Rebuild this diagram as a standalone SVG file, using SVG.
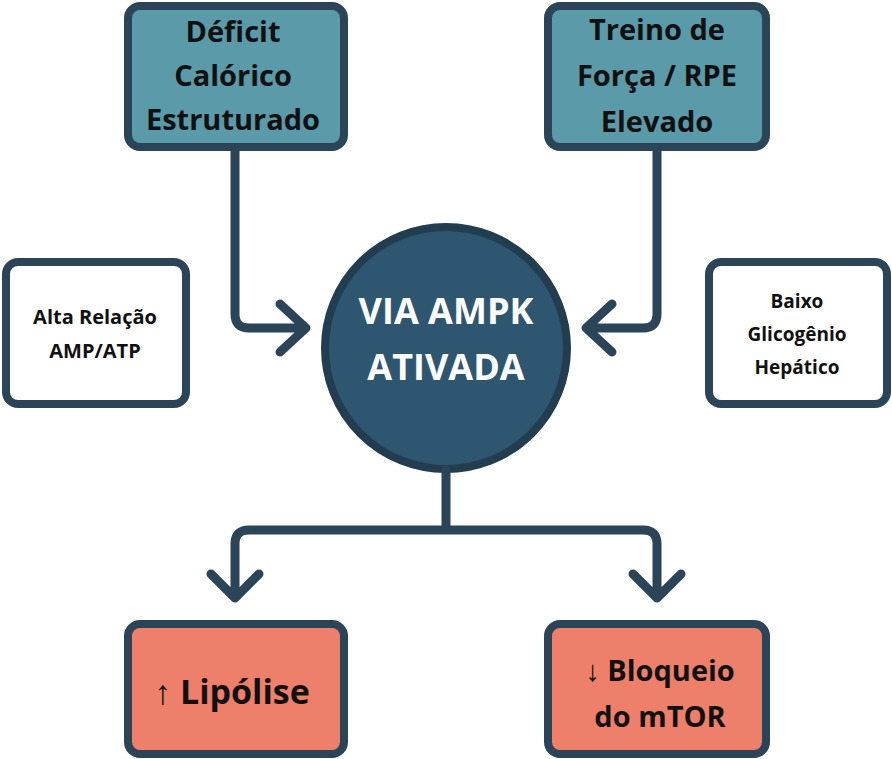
<svg xmlns="http://www.w3.org/2000/svg" width="892" height="759" viewBox="0 0 892 759">
<style>
.box{stroke:#2b4457;stroke-width:8}
.t{fill:#fff}.s{fill:#5b9aa9}.r{fill:#ee806b}
text{font-family:"Open Sans","Noto Sans",sans-serif;font-weight:bold;text-anchor:middle;fill:#111}
.c{fill:none;stroke:#2b4457;stroke-width:9;stroke-linecap:round;stroke-linejoin:round}
</style>
<rect width="892" height="759" fill="#fff"/>
<g id="deficit"><rect class="box s" x="128" y="6" width="216" height="141" rx="12"/>
<text font-size="29"><tspan x="233" y="42">Déficit</tspan><tspan x="233" y="86">Calórico</tspan><tspan x="233" y="130">Estruturado</tspan></text></g>
<g id="treino"><rect class="box s" x="548" y="6" width="218" height="141" rx="12"/>
<text font-size="29"><tspan x="657" y="40">Treino de</tspan><tspan x="657" y="86">Força / RPE</tspan><tspan x="657" y="132">Elevado</tspan></text></g>
<g id="amp"><rect class="box t" x="6" y="262" width="180" height="142" rx="12"/>
<text font-size="20"><tspan x="95" y="324">Alta Relação</tspan><tspan x="95" y="358">AMP/ATP</tspan></text></g>
<g id="glico"><rect class="box t" x="709" y="262" width="178" height="142" rx="12"/>
<text font-size="19"><tspan x="797" y="308">Baixo</tspan><tspan x="797" y="341">Glicogênio</tspan><tspan x="797" y="374">Hepático</tspan></text></g>
<g id="ampk"><circle cx="446" cy="348" r="121" fill="#2f5670" stroke="#233d50" stroke-width="8"/>
<text font-size="36" style="fill:#fff"><tspan x="446" y="324">VIA AMPK</tspan><tspan x="446" y="380">ATIVADA</tspan></text></g>
<g id="lipolise"><rect class="box r" x="128" y="624" width="216" height="130" rx="12"/>
<text font-size="34" x="232" y="704">↑ Lipólise</text></g>
<g id="mtor"><rect class="box r" x="548" y="624" width="218" height="130" rx="12"/>
<text font-size="29"><tspan x="660" y="681">↓ Bloqueio</tspan><tspan x="660" y="727">do mTOR</tspan></text></g>
<g id="connectors">
<path class="c" d="M235 151 V314 Q235 328 249 328 H305 M280 304 L306 328 L280 352"/>
<path class="c" d="M657 151 V314 Q657 328 643 328 H588 M612 304 L586 328 L612 352"/>
<path class="c" d="M446 470 V530 M235 590 V544 Q235 530 249 530 H643 Q657 530 657 544 V598 M211 574 L235 598 L259 574 M633 574 L657 598 L681 574"/>
</g>
</svg>
